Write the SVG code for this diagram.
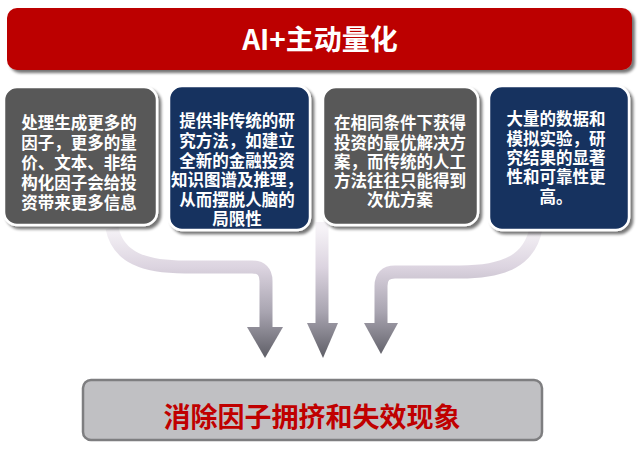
<svg xmlns="http://www.w3.org/2000/svg" width="640" height="453" viewBox="0 0 640 453">
  <defs>
    <linearGradient id="ag" gradientUnits="userSpaceOnUse" x1="0" y1="228" x2="0" y2="358">
      <stop offset="0" stop-color="#f6f3f7"/>
      <stop offset="0.3" stop-color="#dcd4e0"/>
      <stop offset="0.65" stop-color="#a8a4b0"/>
      <stop offset="1" stop-color="#5e5e66"/>
    </linearGradient>
    <filter id="sh" x="-10%" y="-10%" width="130%" height="130%">
      <feGaussianBlur in="SourceAlpha" stdDeviation="1.5"/>
      <feOffset dx="3" dy="3"/>
      <feComponentTransfer><feFuncA type="linear" slope="0.55"/></feComponentTransfer>
      <feMerge><feMergeNode/><feMergeNode in="SourceGraphic"/></feMerge>
    </filter>
  </defs>
  <style>
    .cjk { font-family: "Noto Sans CJK SC", "Noto Sans", sans-serif; font-weight: bold; }
    .bt { fill: #ffffff; font-size: 16.5px; text-anchor: middle; }
    .gray { fill: #595959; stroke: #ffffff; stroke-width: 2.5; }
    .navy { fill: #14305e; stroke: #ffffff; stroke-width: 2.5; }
    .arr { fill: none; stroke: url(#ag); stroke-width: 13; }
    .head { fill: url(#ag); }
  </style>
  <rect width="640" height="453" fill="#ffffff"/>

  <g id="connectors">
    <path class="arr" d="M 112 228 C 118 258, 145 267, 185 267 L 252 267 Q 266 267 266 281 L 266 329"/>
    <polygon class="head" points="247,327 283,327 265,358"/>
    <path class="arr" d="M 322 222 L 322 326"/>
    <polygon class="head" points="307,323 338,323 323,358"/>
    <path class="arr" d="M 536 228 C 530 260, 505 272, 460 272 L 395 272 Q 381 272 381 286 L 381 325"/>
    <polygon class="head" points="364,323 398,323 381,354"/>
  </g>

  <g id="title">
    <rect x="7" y="8" width="625" height="62" rx="10" fill="#bc0000" filter="url(#sh)"/>
    <text class="cjk" x="320" y="50" font-size="28" fill="#ffffff" text-anchor="middle">AI+主动量化</text>
  </g>

  <g id="box1">
    <rect class="gray" x="4" y="87" width="153" height="138" rx="13" filter="url(#sh)"/>
    <text class="cjk bt" x="79" y="129">处理生成更多的</text>
    <text class="cjk bt" x="79" y="149">因子，更多的量</text>
    <text class="cjk bt" x="79" y="169">价、文本、非结</text>
    <text class="cjk bt" x="79" y="189">构化因子会给投</text>
    <text class="cjk bt" x="79" y="209">资带来更多信息</text>
  </g>

  <g id="box2">
    <rect class="navy" x="169" y="86" width="141" height="144" rx="13" filter="url(#sh)"/>
    <text class="cjk bt" x="237" y="127">提供非传统的研</text>
    <text class="cjk bt" x="237" y="147">究方法，如建立</text>
    <text class="cjk bt" x="237" y="167">全新的金融投资</text>
    <text class="cjk bt" x="237" y="186">知识图谱及推理，</text>
    <text class="cjk bt" x="237" y="206">从而摆脱人脑的</text>
    <text class="cjk bt" x="237" y="225">局限性</text>
  </g>

  <g id="box3">
    <rect class="gray" x="323" y="87" width="155" height="138" rx="13" filter="url(#sh)"/>
    <text class="cjk bt" x="400" y="129">在相同条件下获得</text>
    <text class="cjk bt" x="400" y="149">投资的最优解决方</text>
    <text class="cjk bt" x="400" y="168">案，而传统的人工</text>
    <text class="cjk bt" x="400" y="187">方法往往只能得到</text>
    <text class="cjk bt" x="400" y="206">次优方案</text>
  </g>

  <g id="box4">
    <rect class="navy" x="489" y="86" width="140" height="144" rx="13" filter="url(#sh)"/>
    <text class="cjk bt" x="556" y="125">大量的数据和</text>
    <text class="cjk bt" x="556" y="145">模拟实验，研</text>
    <text class="cjk bt" x="556" y="164">究结果的显著</text>
    <text class="cjk bt" x="556" y="183">性和可靠性更</text>
    <text class="cjk bt" x="556" y="203">高。</text>
  </g>

  <g id="result">
    <rect x="83" y="380" width="459" height="60" rx="8" fill="#c0c0c3" stroke="#7e7e80" stroke-width="2.5"/>
    <text class="cjk" x="312" y="427" font-size="27" fill="#c00000" text-anchor="middle">消除因子拥挤和失效现象</text>
  </g>
</svg>
